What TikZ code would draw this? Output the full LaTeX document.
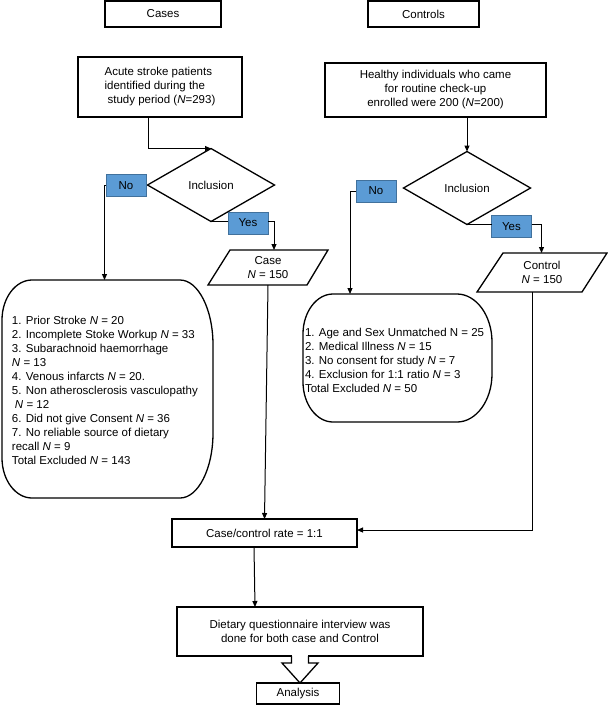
\documentclass[tikz,border=0pt]{standalone}
\usepackage{fontspec}
\setmainfont{Liberation Sans}
\usetikzlibrary{shapes.geometric,calc,arrows.meta}
\definecolor{nobg}{RGB}{91,155,213}
\definecolor{noline}{RGB}{65,113,156}
\tikzset{
 every node/.style={font=\fontsize{11.5pt}{14pt}\selectfont, inner sep=0pt, outer sep=0pt},
 box/.style={draw, line width=1.3pt, rectangle},
 headbox/.style={draw, line width=1.8pt, rectangle, minimum height=26pt},
 decbox/.style={draw, line width=1.3pt, diamond, minimum width=127pt, minimum height=73pt, aspect=1.74},
 bluebox/.style={draw=noline, fill=nobg, line width=0.8pt, minimum width=40pt, minimum height=22pt},
 shapeline/.style={line width=1.3pt, line join=miter},
 arr/.style={line width=1pt, -{Triangle[length=6pt,width=5pt]}},
 conn/.style={line width=1pt},
}
\newcommand{\exoutline}[5]{%
 \draw[shapeline] ($(#1.north west)+(#2,0)$) -- ($(#1.north east)+(-#4,0)$)
 .. controls ($(#1.north east)+(-0.45*#4,0)$) and ($(#1.north east)+(0,0.45*#5)$) .. ($(#1.north east)+(0,#5)$)
 -- ($(#1.south east)+(0,-#5)$)
 .. controls ($(#1.south east)+(0,-0.45*#5)$) and ($(#1.south east)+(-0.45*#4,0)$) .. ($(#1.south east)+(-#4,0)$)
 -- ($(#1.south west)+(#2,0)$)
 .. controls ($(#1.south west)+(0.45*#2,0)$) and ($(#1.south west)+(0,-0.45*#3)$) .. ($(#1.south west)+(0,-#3)$)
 -- ($(#1.north west)+(0,#3)$)
 .. controls ($(#1.north west)+(0,0.45*#3)$) and ($(#1.north west)+(0.45*#2,0)$) .. cycle;}
\begin{document}
\begin{tikzpicture}[x=1pt,y=-1pt]
\useasboundingbox (0,0) rectangle (608,705);
% headers
\node[headbox, minimum width=116pt] (cases) at (163,14) {Cases};
\node[headbox, minimum width=111pt] (controls) at (423.5,14) {Controls};
% start boxes
\node[box, minimum width=164pt, minimum height=60pt, align=left] (acute) at (160,87)
 {Acute stroke patients\\identified during the\\\hspace*{3pt}study period (\textit{N}=293)};
\node[box, minimum width=221pt, minimum height=54pt, align=center] (healthy) at (435.5,90)
 {Healthy individuals who came\\for routine check-up\\enrolled were 200 (\textit{N}=200)};
% decisions
\node[decbox] (dL) at (211,185) {Inclusion};
\node[decbox] (dR) at (467,188) {Inclusion};
\node[bluebox] (noL) at (126,185.5) {No};
\node[bluebox] (yesL) at (248,223) {Yes};
\node[bluebox] (noR) at (376,191) {No};
\node[bluebox] (yesR) at (511.5,226.5) {Yes};
% parallelograms
\node[minimum width=98pt, minimum height=35pt, align=center] (caseP) at (268,267.5) {Case\\\textit{N} = 150};
\draw[shapeline] (230,250) -- (328,250) -- (307,285) -- (208,285) -- cycle;
\node[minimum width=104pt, minimum height=39pt, align=center] (ctrlP) at (542,272.5) {Control\\\textit{N} = 150};
\draw[shapeline] (503,253) -- (607,253) -- (582,292) -- (477,292) -- cycle;
% exclusion boxes
\node[minimum width=211pt, minimum height=218pt] (exL) at (107.5,389) {};
\exoutline{exL}{30}{40}{33}{65}
\node[anchor=north west, align=left] (exLt) at (12,316.5)
 {1. Prior Stroke \textit{N} = 20\\
  2. Incomplete Stoke Workup \textit{N} = 33\\
  3. Subarachnoid haemorrhage\\
  \textit{N} = 13\\
  4. Venous infarcts \textit{N} = 20.\\
  5. Non atherosclerosis vasculopathy\\
  \hspace*{3pt}\textit{N} = 12\\
  6. Did not give Consent \textit{N} = 36\\
  7. No reliable source of dietary\\
  recall \textit{N} = 9\\
  Total Excluded \textit{N} = 143};
\node[minimum width=189pt, minimum height=128pt] (exR) at (397.5,358) {};
\exoutline{exR}{30}{40}{35}{48}
\node[anchor=north west, align=left] (exRt) at (305,328.5)
 {1. Age and Sex Unmatched N = 25\\
  2. Medical Illness \textit{N} = 15\\
  3. No consent for study \textit{N} = 7\\
  4. Exclusion for 1:1 ratio \textit{N} = 3\\
  Total Excluded \textit{N} = 50};
% lower boxes
\node[box, minimum width=185pt, minimum height=28pt] (rate) at (264.5,533) {Case/control rate = 1:1};
\node[box, minimum width=246pt, minimum height=49pt, align=center] (diet) at (300,631.5)
 {Dietary questionnaire interview was\\done for both case and Control};
\node[box, minimum width=83pt, minimum height=21pt] (analysis) at (298,693.5) {Analysis};
% connectors
\draw[arr] ([xshift=-12pt]acute.south) |- (dL.north);
\draw[arr] (dR.north |- healthy.south) -- (dR.north);
\draw[arr] (noL.west) -- ++(-1.5,0) coordinate (nLc) -- (nLc |- exL.north);
\draw[arr] (noR.west) -- ++(-6,0) coordinate (nRc) -- (nRc |- exR.north);
\draw[conn] (dL.south) -- (dL.south -| yesL.west);
\draw[arr] (yesL.east |- dL.south) -- ++(6,0) coordinate (yLc) -- (yLc |- caseP.north);
\draw[conn] (dR.south) -- (dR.south -| yesR.west);
\draw[arr] (yesR.east |- dR.south) -- ++(10,0) coordinate (yRc) -- (yRc |- ctrlP.north);
\draw[arr] (caseP.south) -- (rate.north);
\draw[arr] ([xshift=-10pt]ctrlP.south) |- ([yshift=3pt]rate.east);
\draw[arr] ([xshift=-10.5pt]rate.south) -- ([xshift=-45pt]diet.north);
% hollow block arrow
\fill[white] ($(diet.south)+(-7.8,-1.5)$) rectangle ($(diet.south)+(8.3,1)$);
\draw[shapeline] ($(diet.south)+(-8.5,0)$) -- ++(0,7) -- ++(-9.5,0) -- (diet.south |- analysis.north)
 -- ($(diet.south)+(18,7)$) -- ++(-9.5,0) -- ++(0,-7);
\end{tikzpicture}
\end{document}
